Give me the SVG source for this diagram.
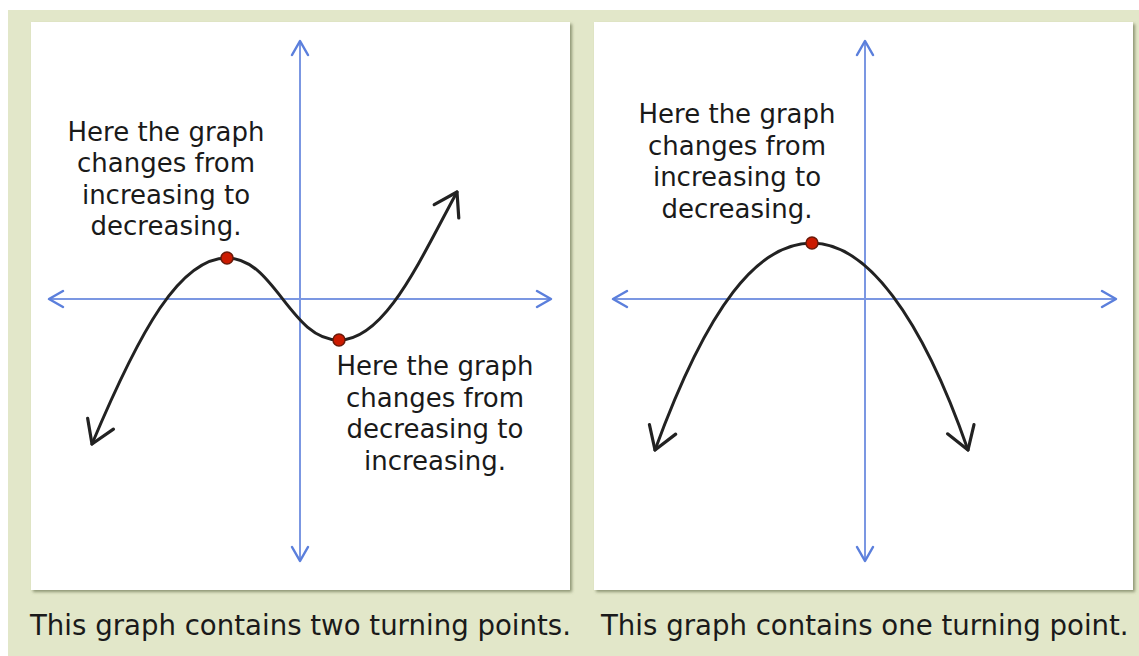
<svg xmlns="http://www.w3.org/2000/svg" width="1139" height="656" viewBox="0 0 1139 656">
<style>
.panel{fill:#ffffff;filter:url(#sh)}
.axis{fill:none;stroke:#7b97e2;stroke-width:2}
.curve{fill:none;stroke:#222222;stroke-width:3;stroke-linecap:round}
.dot{fill:#cc1a00;stroke:#6a1a0a;stroke-width:1.5}
.lbl{font-family:"DejaVu Sans",Verdana,sans-serif;font-size:26px;fill:#1a1a1a;text-anchor:middle}
.cap{font-family:"DejaVu Sans",Verdana,sans-serif;font-size:27.6px;fill:#1a1a1a}
</style>
<defs>
<filter id="sh" x="-5%" y="-5%" width="110%" height="110%">
<feDropShadow dx="2" dy="2" stdDeviation="1.8" flood-color="#6b7350" flood-opacity="0.7"/>
</filter>
<marker id="ax" markerUnits="userSpaceOnUse" markerWidth="20" markerHeight="20" viewBox="-16 -10 20 20" refX="0" refY="0" orient="auto-start-reverse">
<path d="M-14,-8 L0,0 L-14,8" fill="none" stroke="#5b7fdc" stroke-width="2.5" stroke-linecap="round" stroke-linejoin="round"/>
</marker>
<marker id="cv" markerUnits="userSpaceOnUse" markerWidth="32" markerHeight="36" viewBox="-26 -18 30 36" refX="0" refY="0" orient="auto-start-reverse">
<path d="M-22,-14 L0,0 L-22,14" fill="none" stroke="#222222" stroke-width="3.2" stroke-linecap="round" stroke-linejoin="round"/>
</marker>
</defs>
<rect x="8" y="10" width="1131" height="646" fill="#e2e7c9"/>
<g id="panel1">
<rect class="panel" x="31" y="22" width="539" height="568"/>
</g>
<g id="panel2">
<rect class="panel" x="594" y="22" width="539" height="568"/>
</g>
<g id="connectors">
<line class="axis" x1="300" y1="41" x2="300" y2="561" marker-start="url(#ax)" marker-end="url(#ax)"/>
<line class="axis" x1="49" y1="299" x2="551" y2="299" marker-start="url(#ax)" marker-end="url(#ax)"/>
<line class="axis" x1="865" y1="41" x2="865" y2="561" marker-start="url(#ax)" marker-end="url(#ax)"/>
<line class="axis" x1="613" y1="299" x2="1116" y2="299" marker-start="url(#ax)" marker-end="url(#ax)"/>
<path class="curve" d="M92,444 C140,330 180,258 227,258 C275,258 290,340 339,340 C385,340 420,260 457,192" marker-start="url(#cv)" marker-end="url(#cv)"/>
<path class="curve" d="M655,450 C708,305 758,243 812,243 C866,243 921,315 968,450" marker-start="url(#cv)" marker-end="url(#cv)"/>
</g>
<g id="point1"><circle class="dot" cx="227" cy="258" r="6"/></g>
<g id="point2"><circle class="dot" cx="339" cy="340" r="6"/></g>
<g id="point3"><circle class="dot" cx="812" cy="243" r="6"/></g>
<g id="label1">
<text class="lbl" x="166" y="141">Here the graph</text>
<text class="lbl" x="166" y="172">changes from</text>
<text class="lbl" x="166" y="204">increasing to</text>
<text class="lbl" x="166" y="235">decreasing.</text>
</g>
<g id="label2">
<text class="lbl" x="435" y="375">Here the graph</text>
<text class="lbl" x="435" y="407">changes from</text>
<text class="lbl" x="435" y="438">decreasing to</text>
<text class="lbl" x="435" y="470">increasing.</text>
</g>
<g id="label3">
<text class="lbl" x="737" y="123">Here the graph</text>
<text class="lbl" x="737" y="155">changes from</text>
<text class="lbl" x="737" y="186">increasing to</text>
<text class="lbl" x="737" y="218">decreasing.</text>
</g>
<g id="caption1"><text class="cap" x="30" y="635">This graph contains two turning points.</text></g>
<g id="caption2"><text class="cap" x="601" y="635">This graph contains one turning point.</text></g>
</svg>
